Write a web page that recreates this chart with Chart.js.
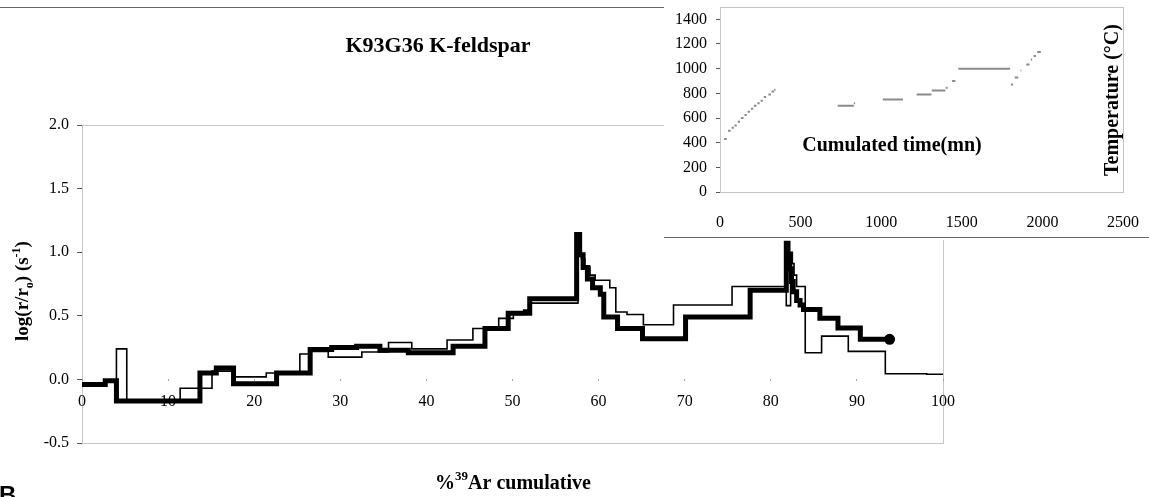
<!DOCTYPE html>
<html>
<head>
<meta charset="utf-8">
<script src="https://cdn.jsdelivr.net/npm/chart.js"></script>
<style>
body { margin: 0; background: #fff; }
#wrap { position: relative; width: 1149px; height: 497px; overflow: hidden; }
#main { position: absolute; left: 0; top: 0; }
#inset { position: absolute; left: 664px; top: 0; background: #fff; }
</style>
</head>
<body>
<div id="wrap">
  <canvas id="main" width="1149" height="497"></canvas>
  <canvas id="inset" width="485" height="240"></canvas>
</div>
<script>
var SERIF = '"Liberation Serif", "Times New Roman", serif';

// ---------- main plot: log(r/r0) vs %39Ar cumulative (step edges + step values) ----------
var thinEdges = [0, 2.7, 4.0, 5.2, 11.4, 15.1, 17.6, 21.4, 25.3, 26.5, 28.6, 32.5, 35.6, 38.3, 42.4, 45.4,
  48.4, 50.1, 51.3, 52.0, 57.6, 58.0, 58.4, 59.0, 59.6, 61.3, 62.0, 63.3, 65.2, 68.7, 75.5, 81.8,
  82.3, 82.5, 82.7, 83.0, 84.0, 85.9, 89.0, 93.3, 98.1, 100];
var thinVals = [-0.04, -0.01, 0.24, -0.17, -0.07, 0.065, 0.02, 0.05, 0.20, 0.22, 0.175, 0.215, 0.29, 0.24, 0.31,
  0.40, 0.48, 0.51, 0.545, 0.60, 1.00, 0.95, 0.89, 0.82, 0.78, 0.72, 0.53, 0.51, 0.43, 0.585, 0.73,
  0.58, 1.00, 0.91, 0.82, 0.73, 0.21, 0.34, 0.22, 0.045, 0.04];

var thickEdges = [0, 2.7, 4.0, 13.7, 15.6, 17.6, 22.6, 26.5, 29.0, 31.9, 34.6, 37.9, 43.1, 46.8, 49.5, 52.0,
  57.45, 57.8, 58.2, 58.7, 59.3, 60.2, 60.6, 62.2, 65.1, 70.1, 77.6, 81.8, 82.0, 82.2, 82.4, 82.6,
  83.0, 83.4, 83.8, 85.7, 87.8, 90.4, 93.8];
var thickVals = [-0.04, -0.01, -0.17, 0.05, 0.09, -0.035, 0.05, 0.235, 0.25, 0.26, 0.23, 0.21, 0.26, 0.40, 0.52,
  0.635, 1.14, 0.98, 0.88, 0.79, 0.72, 0.67, 0.49, 0.40, 0.32, 0.49, 0.70, 1.07, 0.97, 0.87, 0.77,
  0.69, 0.62, 0.585, 0.55, 0.48, 0.405, 0.315];

var mainXTicks = [0, 10, 20, 30, 40, 50, 60, 70, 80, 90, 100];
var mainYTicks = [-0.5, 0.0, 0.5, 1.0, 1.5, 2.0];

// ---------- inset: furnace temperature steps vs cumulated time ----------
var stepStart = [25, 50, 72, 90, 110, 130, 152, 172, 192, 210, 232, 252, 272, 300, 320, 336,
  730, 830, 1010, 1220, 1314, 1400, 1440, 1478, 1805, 1828, 1865, 1900, 1928, 1945, 1968, 2010];
var stepEnd = [42, 66, 86, 104, 124, 146, 166, 186, 206, 226, 246, 266, 286, 316, 336, 344,
  830, 838, 1135, 1312, 1398, 1412, 1460, 1800, 1818, 1850, 1870, 1920, 1936, 1960, 1990, 2016];
var stepTemp = [430, 497, 520, 540, 570, 600, 625, 650, 675, 700, 720, 740, 770, 790, 815, 830,
  700, 720, 750, 790, 822, 845, 900, 1000, 872, 928, 985, 1033, 1075, 1103, 1136, 1165];

var insetXTicks = [0, 500, 1000, 1500, 2000, 2500];
var insetYTicks = [0, 200, 400, 600, 800, 1000, 1200, 1400];

function stepPoints(edges, vals) {
  var pts = [];
  for (var i = 0; i < vals.length; i++) pts.push({x: edges[i], y: vals[i]});
  pts.push({x: edges[vals.length], y: vals[vals.length - 1]});
  return pts;
}

function segPoints() {
  var pts = [];
  for (var i = 0; i < stepTemp.length; i++) {
    pts.push({x: stepStart[i], y: stepTemp[i]});
    pts.push({x: stepEnd[i], y: stepTemp[i]});
    pts.push({x: stepEnd[i], y: null});
  }
  return pts;
}

function noPad(s) {
  s.paddingTop = 0; s.paddingBottom = 0; s.paddingLeft = 0; s.paddingRight = 0;
}

// text with sub/superscripts, centred on (cx, cy)
function richText(ctx, parts, cx, cy, size) {
  var widths = [], total = 0;
  ctx.textAlign = 'left';
  ctx.textBaseline = 'alphabetic';
  for (var i = 0; i < parts.length; i++) {
    ctx.font = 'bold ' + (parts[i][1] ? Math.round(size * 0.65) : size) + 'px ' + SERIF;
    widths[i] = ctx.measureText(parts[i][0]).width;
    total += widths[i];
  }
  var x = cx - total / 2;
  for (var j = 0; j < parts.length; j++) {
    ctx.font = 'bold ' + (parts[j][1] ? Math.round(size * 0.65) : size) + 'px ' + SERIF;
    var dy = parts[j][1] == 1 ? size * 0.25 : (parts[j][1] == 2 ? -size * 0.42 : 0);
    ctx.fillText(parts[j][0], x, cy + size * 0.33 + dy);
    x += widths[j];
  }
}

function dottedBox(ctx, a) {
  ctx.save();
  ctx.strokeStyle = '#8c8c8c';
  ctx.lineWidth = 1;
  ctx.setLineDash([1, 1]);
  ctx.strokeRect(Math.round(a.left) + 0.5, Math.round(a.top) + 0.5,
    Math.round(a.right - a.left), Math.round(a.bottom - a.top));
  ctx.restore();
}

var mainDecor = {
  id: 'mainDecor',
  beforeDatasetsDraw: function(chart) { dottedBox(chart.ctx, chart.chartArea); },
  afterDraw: function(chart) {
    var ctx = chart.ctx;
    ctx.save();
    ctx.strokeStyle = '#666';
    ctx.lineWidth = 1.2;
    ctx.beginPath();
    ctx.moveTo(0, 7.5);
    ctx.lineTo(664, 7.5);
    ctx.stroke();
    ctx.fillStyle = '#000';
    ctx.font = 'bold 22px ' + SERIF;
    ctx.textAlign = 'center';
    ctx.textBaseline = 'middle';
    ctx.fillText('K93G36 K-feldspar', 438, 46);
    richText(ctx, [['%', 0], ['39', 2], ['Ar cumulative', 0]], 513, 482, 20);
    ctx.save();
    ctx.translate(22, 291);
    ctx.rotate(-Math.PI / 2);
    richText(ctx, [['log(r/r', 0], ['o', 1], [') (s', 0], ['-1', 2], [')', 0]], 0, 0, 19);
    ctx.restore();
    ctx.font = 'bold 24px "Liberation Sans", Arial, sans-serif';
    ctx.textAlign = 'left';
    ctx.textBaseline = 'top';
    ctx.fillText('B', -1, 484);
    ctx.restore();
  }
};

var insetDecor = {
  id: 'insetDecor',
  beforeDatasetsDraw: function(chart) { dottedBox(chart.ctx, chart.chartArea); },
  afterDraw: function(chart) {
    var ctx = chart.ctx;
    ctx.save();
    ctx.strokeStyle = '#666';
    ctx.lineWidth = 1.2;
    ctx.beginPath();
    ctx.moveTo(0, 237.5);
    ctx.lineTo(485, 237.5);
    ctx.stroke();
    ctx.fillStyle = '#000';
    ctx.font = 'bold 20px ' + SERIF;
    ctx.textAlign = 'center';
    ctx.textBaseline = 'middle';
    ctx.fillText('Cumulated time(mn)', 228, 146);
    ctx.translate(449, 100);
    ctx.rotate(-Math.PI / 2);
    ctx.fillText('Temperature (\u00B0C)', 0, 0);
    ctx.restore();
  }
};

var lastThick = thickVals.length;

new Chart(document.getElementById('main'), {
  type: 'line',
  data: {
    datasets: [{
      data: stepPoints(thickEdges, thickVals),
      borderColor: '#000',
      backgroundColor: '#000',
      borderWidth: 5,
      stepped: 'before',
      pointRadius: function(c) { return c.dataIndex === lastThick ? 3 : 0; },
      fill: false
    }, {
      data: stepPoints(thinEdges, thinVals),
      borderColor: '#000',
      borderWidth: 1.6,
      stepped: 'before',
      pointRadius: 0,
      fill: false
    }]
  },
  options: {
    responsive: false,
    animation: false,
    devicePixelRatio: 1,
    events: [],
    layout: { padding: { left: 0, top: 125, right: 206, bottom: 54 } },
    plugins: { legend: { display: false }, tooltip: { enabled: false } },
    scales: {
      x: {
        type: 'linear', min: 0, max: 100,
        position: { y: 0 },
        afterBuildTicks: function(s) { s.ticks = mainXTicks.map(function(v) { return {value: v}; }); },
        afterFit: noPad,
        grid: { drawOnChartArea: false, tickLength: 2, color: '#aaa' },
        border: { display: false },
        ticks: { font: { family: SERIF, size: 16 }, color: '#000', padding: 11, maxRotation: 0, autoSkip: false }
      },
      y: {
        type: 'linear', min: -0.5, max: 2.0,
        afterBuildTicks: function(s) { s.ticks = mainYTicks.map(function(v) { return {value: v}; }); },
        afterFit: function(s) { s.width = 82; noPad(s); },
        grid: { drawOnChartArea: false, tickLength: 5, color: '#555' },
        border: { display: false },
        ticks: { font: { family: SERIF, size: 16 }, color: '#000', padding: 8,
          callback: function(v) { return v.toFixed(1); } }
      }
    }
  },
  plugins: [mainDecor]
});

new Chart(document.getElementById('inset'), {
  type: 'line',
  data: {
    datasets: [{
      data: segPoints(),
      borderColor: '#8a8a8a',
      borderWidth: 2,
      pointRadius: 0,
      spanGaps: false,
      fill: false
    }]
  },
  options: {
    responsive: false,
    animation: false,
    devicePixelRatio: 1,
    events: [],
    layout: { padding: { left: 0, top: 7, right: 26, bottom: 0 } },
    plugins: { legend: { display: false }, tooltip: { enabled: false } },
    scales: {
      x: {
        type: 'linear', min: 0, max: 2500,
        afterBuildTicks: function(s) { s.ticks = insetXTicks.map(function(v) { return {value: v}; }); },
        afterFit: function(s) { s.height = 48; noPad(s); },
        grid: { display: false },
        border: { display: false },
        ticks: { font: { family: SERIF, size: 16 }, color: '#000', padding: 13, maxRotation: 0, autoSkip: false,
          callback: function(v) { return String(v); } }
      },
      y: {
        type: 'linear', min: 0, max: 1500,
        afterBuildTicks: function(s) { s.ticks = insetYTicks.map(function(v) { return {value: v}; }); },
        afterFit: function(s) { s.width = 56; noPad(s); },
        grid: { drawOnChartArea: false, tickLength: 4, color: '#555' },
        border: { display: false },
        ticks: { font: { family: SERIF, size: 16 }, color: '#000', padding: 9,
          callback: function(v) { return String(v); } }
      }
    }
  },
  plugins: [insetDecor]
});
</script>
</body>
</html>
